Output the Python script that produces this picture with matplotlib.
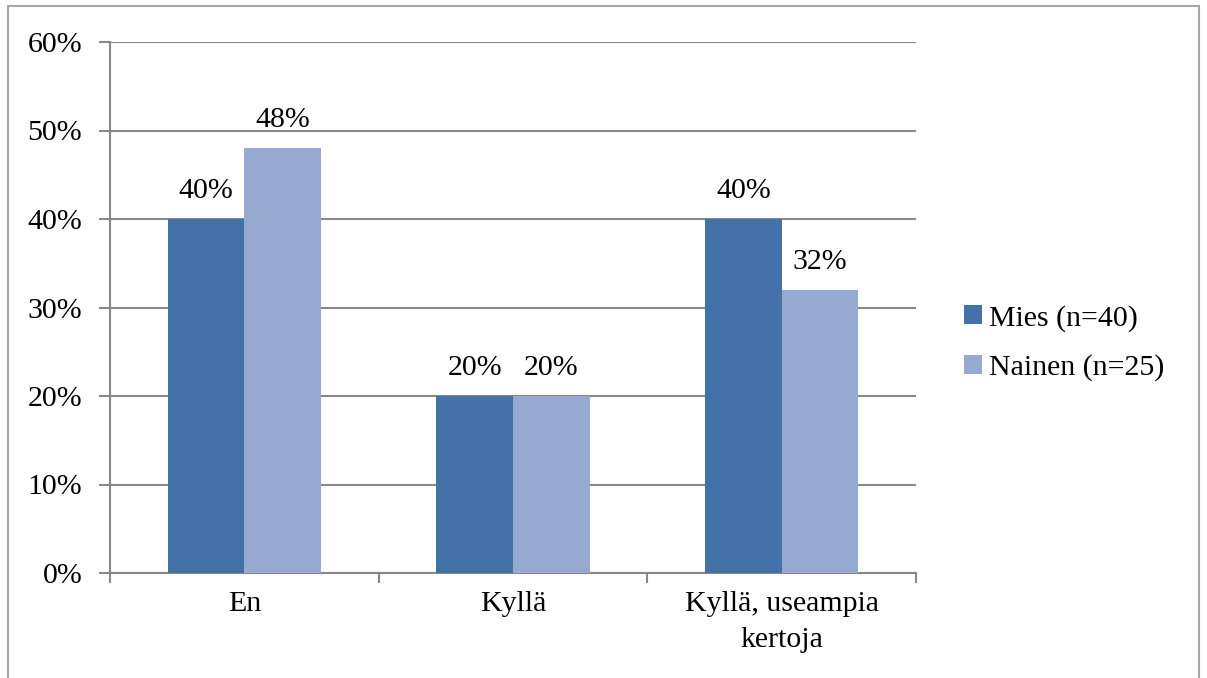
import numpy as np
import matplotlib.pyplot as plt
from matplotlib.patches import Rectangle
from matplotlib.ticker import FuncFormatter

plt.rcParams['font.family'] = ['Liberation Serif', 'DejaVu Serif']

categories = ['En', 'Kyllä', 'Kyllä, useampia\nkertoja']
mies = [40, 20, 40]
nainen = [48, 20, 32]
series_names = ['Mies (n=40)', 'Nainen (n=25)']

W, H = 1207, 678
fig = plt.figure(figsize=(W / 100, H / 100), dpi=100)

# outer frame of the chart area
fig.patches.append(Rectangle((8 / W, -0.1), (1199 - 8) / W, 1.1 - 6 / H,
                             transform=fig.transFigure, fill=False,
                             edgecolor='#a6a6a6', linewidth=1.5))

ax = fig.add_axes([110 / W, (H - 573) / H, (916 - 110) / W, (573 - 42) / H])

grid_col = '#888888'
fs = 21.5
bw = 1 / 3.5
x = np.arange(len(categories))
b1 = ax.bar(x - bw / 2, mies, bw, color='#4472a8', label=series_names[0], zorder=3)
b2 = ax.bar(x + bw / 2, nainen, bw, color='#95a9d1', label=series_names[1], zorder=3)

for bars, vals in [(b1, mies), (b2, nainen)]:
    for rect, v in zip(bars, vals):
        ax.annotate('%d%%' % v, (rect.get_x() + rect.get_width() / 2, v),
                    xytext=(0, 11), textcoords='offset points',
                    ha='center', va='bottom', fontsize=fs)

ax.set_xlim(-0.5, 2.5)
ax.set_ylim(0, 60)
ax.set_yticks(range(0, 61, 10))
ax.yaxis.set_major_formatter(FuncFormatter(lambda v, p: '%d%%' % v))
ax.yaxis.grid(True, color=grid_col, linewidth=1.5, zorder=0)
ax.set_axisbelow(True)

ax.set_xticks(x)
ax.set_xticklabels(categories, linespacing=1.5)
ax.set_xticks([-0.5, 0.5, 1.5, 2.5], minor=True)
ax.tick_params(axis='x', which='major', length=0, pad=13, labelsize=fs)
ax.tick_params(axis='x', which='minor', length=7, width=1.5, color=grid_col, direction='out')
ax.tick_params(axis='y', length=8, width=1.5, color=grid_col, pad=12, labelsize=fs)

for s in ['top', 'right']:
    ax.spines[s].set_visible(False)
for s in ['left', 'bottom']:
    ax.spines[s].set_color(grid_col)
    ax.spines[s].set_linewidth(1.5)

ax.legend(loc='center left', bbox_to_anchor=(937 / W, (H - 343) / H),
          bbox_transform=fig.transFigure, frameon=False, fontsize=fs,
          handlelength=0.6, handleheight=0.6, handletextpad=0.25, labelspacing=0.75)

fig.savefig('out.png', dpi=100)
